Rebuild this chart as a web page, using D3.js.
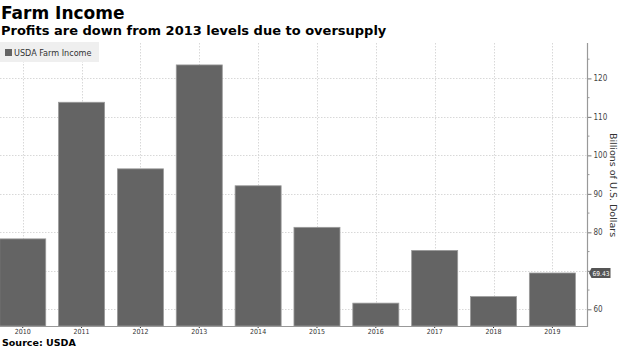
<!DOCTYPE html>
<html><head><meta charset="utf-8">
<script src="https://cdn.jsdelivr.net/npm/d3@7"></script>
<style>body{margin:0;background:#fff}svg{display:block}</style>
</head><body>
<svg id="c" width="620" height="348"></svg>
<script>
const years = ["2010","2011","2012","2013","2014","2015","2016","2017","2018","2019"];
const income = [78.3, 113.8, 96.5, 123.5, 92.1, 81.3, 61.6, 75.3, 63.3, 69.43];
const majorTicks = [60, 70, 80, 90, 100, 110, 120];
const minorTicks = [65, 75, 85, 95, 105, 115, 125];
const seriesName = "USDA Farm Income";
const lastLabel = "69.43";

const svg = d3.select("#c");
const plotL = 0, plotR = 587.5, plotT = 43, plotB = 326;

const x = d3.scaleBand().domain(years).range([-6.7, 581.8]).paddingInner(0.218).paddingOuter(0.109);
const y = d3.scaleLinear().domain([55.66, 129.2]).range([plotB, plotT]);
const lastVal = income[income.length - 1];

// horizontal grid
svg.append("g").selectAll("line").data(majorTicks).join("line")
  .attr("x1", plotL).attr("x2", plotR)
  .attr("y1", d => Math.round(y(d)) + 0.5).attr("y2", d => Math.round(y(d)) + 0.5)
  .attr("stroke", "#d8d8d8").attr("stroke-width", 1).attr("stroke-dasharray", "1.5,1.5");
// vertical grid
svg.append("g").selectAll("line").data(years).join("line")
  .attr("x1", d => Math.round(x(d) + x.bandwidth()/2) + 0.5)
  .attr("x2", d => Math.round(x(d) + x.bandwidth()/2) + 0.5)
  .attr("y1", plotT).attr("y2", plotB)
  .attr("stroke", "#d8d8d8").attr("stroke-width", 1).attr("stroke-dasharray", "1.5,1.5");

// bars
svg.append("g").selectAll("rect").data(years).join("rect")
  .attr("x", d => x(d)).attr("width", x.bandwidth())
  .attr("y", (d, i) => y(income[i])).attr("height", (d, i) => plotB - y(income[i]))
  .attr("fill", "#646464").attr("stroke", "#9a9a9a").attr("stroke-width", 0.8);

// bottom axis
const xa = svg.append("g").attr("transform", `translate(0,${plotB})`)
  .call(d3.axisBottom(x).tickSize(2).tickPadding(1));
xa.select(".domain").remove();
xa.selectAll("line").attr("stroke", "#333");
xa.selectAll("text").attr("font-family", "'DejaVu Sans Condensed', sans-serif").attr("font-size", 7).attr("fill", "#333");
svg.append("line").attr("x1", plotL).attr("x2", plotR).attr("y1", plotB + 0.5).attr("y2", plotB + 0.5)
  .attr("stroke", "#999").attr("stroke-width", 1);

// right axis
const ya = svg.append("g").attr("transform", `translate(${plotR},0)`)
  .call(d3.axisRight(y).tickValues(majorTicks).tickSize(4).tickPadding(2).tickFormat(d3.format("d")));
ya.select(".domain").remove();
ya.selectAll("line").attr("stroke", "#777");
ya.selectAll("text").attr("font-family", "'DejaVu Sans Condensed', sans-serif").attr("font-size", 8).attr("fill", "#444");
// the last-value tag covers the nearby tick label
ya.selectAll(".tick").filter(d => Math.abs(d - lastVal) < 3).select("text").remove();
svg.append("g").selectAll("line").data(minorTicks).join("line")
  .attr("x1", plotR).attr("x2", plotR + 2)
  .attr("y1", d => y(d)).attr("y2", d => y(d)).attr("stroke", "#999");
svg.append("line").attr("x1", plotR).attr("x2", plotR).attr("y1", plotT).attr("y2", plotB + 1)
  .attr("stroke", "#999").attr("stroke-width", 1.2);

// last value tag
const ty = y(lastVal);
svg.append("path")
  .attr("d", `M${plotR+1.5},${ty} L${plotR+4},${ty-5} L${plotR+23},${ty-5} L${plotR+23},${ty+5} L${plotR+4},${ty+5} Z`)
  .attr("fill", "#555");
svg.append("text").attr("x", plotR + 13.5).attr("y", ty + 2.5).attr("text-anchor", "middle")
  .attr("font-family", "'DejaVu Sans Condensed', sans-serif").attr("font-size", 6.6).attr("fill", "#fff")
  .text(lastLabel);

// y axis title
svg.append("text").attr("transform", `translate(610,185) rotate(90)`)
  .attr("text-anchor", "middle").attr("font-family", "'DejaVu Sans', sans-serif")
  .attr("font-size", 9.5).attr("fill", "#333").text("Billions of U.S. Dollars");

// legend
svg.append("rect").attr("x", 0).attr("y", 42).attr("width", 99).attr("height", 20).attr("fill", "#efefef");
svg.append("rect").attr("x", 5).attr("y", 49).attr("width", 7).attr("height", 7).attr("fill", "#646464");
svg.append("text").attr("x", 14).attr("y", 56).attr("font-family", "'DejaVu Sans Condensed', sans-serif")
  .attr("font-size", 9).attr("fill", "#333").text(seriesName);

// titles
svg.append("text").attr("x", 1).attr("y", 19).attr("font-family", "'DejaVu Sans', sans-serif")
  .attr("font-weight", "bold").attr("font-size", 17).attr("fill", "#000").text("Farm Income");
svg.append("text").attr("x", 1).attr("y", 34.5).attr("font-family", "'DejaVu Sans', sans-serif")
  .attr("font-weight", "bold").attr("font-size", 13).attr("fill", "#000").text("Profits are down from 2013 levels due to oversupply");
svg.append("text").attr("x", 2).attr("y", 346).attr("font-family", "'DejaVu Sans', sans-serif")
  .attr("font-weight", "bold").attr("font-size", 9.5).attr("fill", "#000").text("Source: USDA");
</script>
</body></html>
